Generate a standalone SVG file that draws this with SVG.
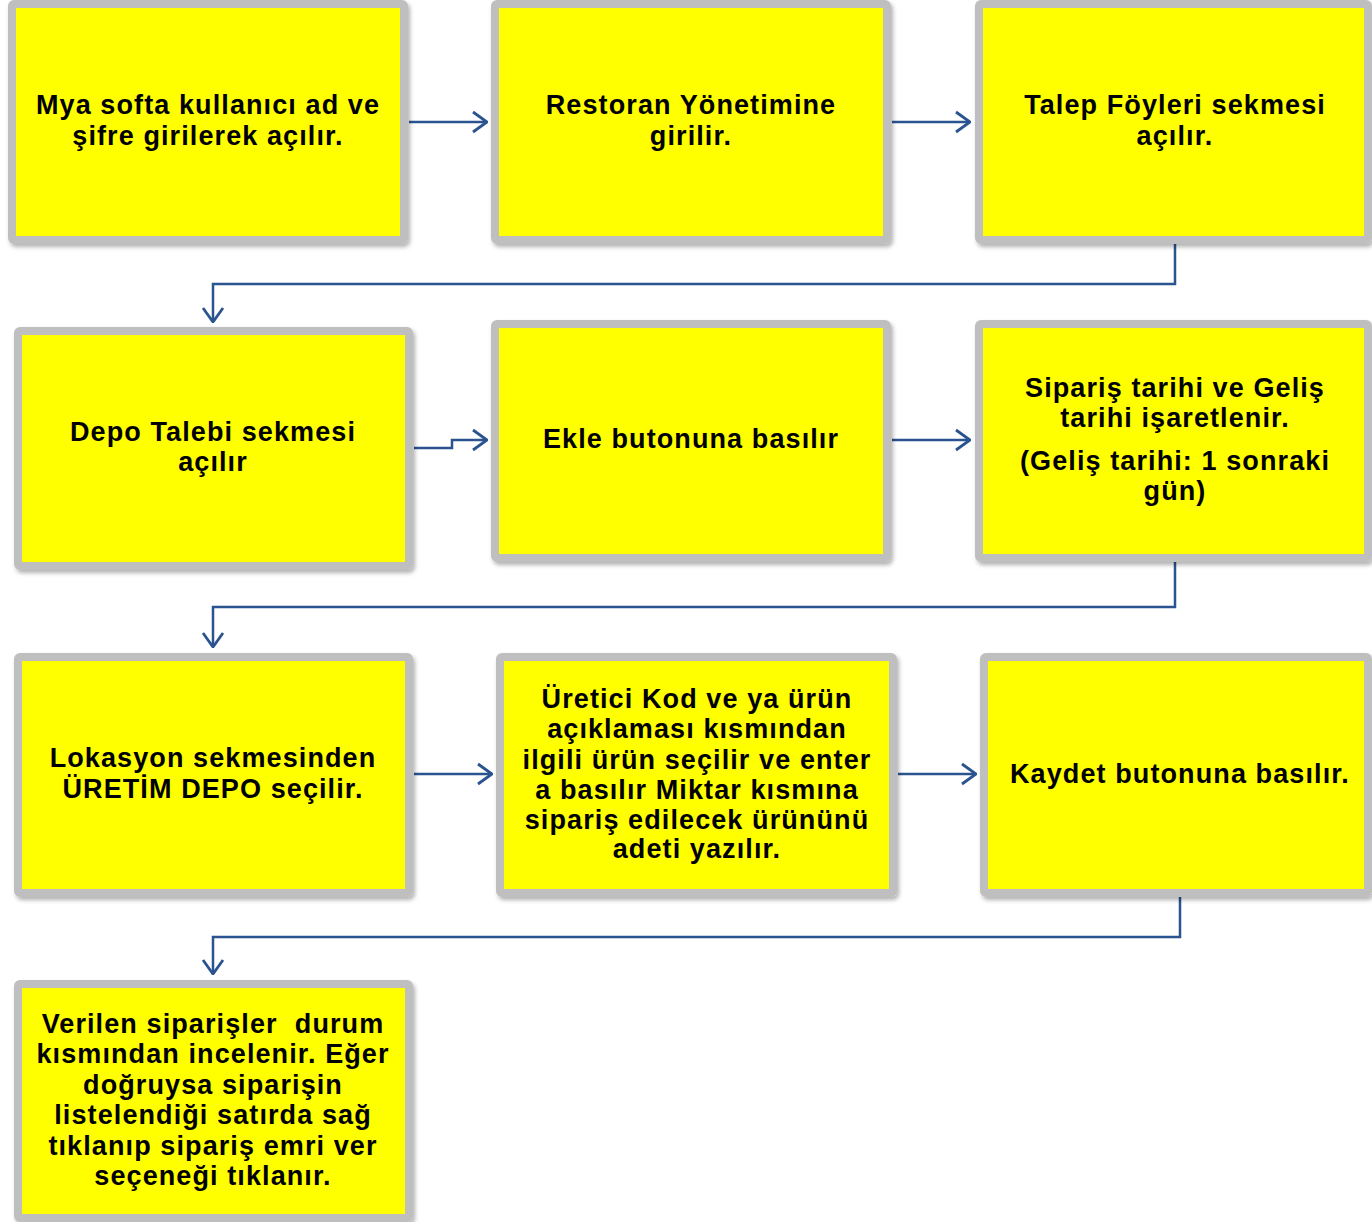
<svg xmlns="http://www.w3.org/2000/svg" width="1372" height="1222" viewBox="0 0 1372 1222">
<defs>
<style>
.box{fill:#FFFF00;stroke:#BFBFBF;stroke-width:8;filter:url(#sh)}
.t{font-family:"Liberation Sans",Arial,sans-serif;font-weight:bold;font-size:27px;fill:#000;text-anchor:middle;letter-spacing:1.1px;white-space:pre}
.c{fill:none;stroke:#2A5390;stroke-width:2.5;marker-end:url(#ah)}
</style>
<filter id="sh" x="-5%" y="-5%" width="115%" height="115%">
<feDropShadow dx="2" dy="3" stdDeviation="2" flood-color="#000" flood-opacity="0.3"/>
</filter>
<marker id="ah" markerUnits="userSpaceOnUse" viewBox="0 0 16 24" markerWidth="16" markerHeight="24" refX="15" refY="12" orient="auto">
<path d="M1,2 L15,12 L1,22" fill="none" stroke="#2A5390" stroke-width="2.8"/>
</marker>
</defs>
<rect width="1372" height="1222" fill="#FFFFFF"/>
<g id="connectors">
<path class="c" d="M409,122 H487"/>
<path class="c" d="M892,122 H970"/>
<path class="c" d="M1175,244 V284 H213 V322"/>
<path class="c" d="M414,448 H452 V440 H487"/>
<path class="c" d="M892,440 H970"/>
<path class="c" d="M1175,562 V607 H213 V647"/>
<path class="c" d="M414,774 H492"/>
<path class="c" d="M898,774 H976"/>
<path class="c" d="M1180,897 V937 H213 V974"/>
</g>
<g id="n1"><rect class="box" x="12" y="4" width="392" height="236" rx="2"/>
<text class="t"><tspan x="208" y="114">Mya softa kullanıcı ad ve</tspan><tspan x="208" y="145">şifre girilerek açılır.</tspan></text></g>
<g id="n2"><rect class="box" x="495" y="4" width="392" height="236" rx="2"/>
<text class="t"><tspan x="691" y="114">Restoran Yönetimine</tspan><tspan x="691" y="145">girilir.</tspan></text></g>
<g id="n3"><rect class="box" x="979" y="4" width="389" height="236" rx="2"/>
<text class="t"><tspan x="1175" y="114">Talep Föyleri sekmesi</tspan><tspan x="1175" y="145">açılır.</tspan></text></g>
<g id="n4"><rect class="box" x="18" y="331" width="391" height="235" rx="2"/>
<text class="t"><tspan x="213" y="441">Depo Talebi sekmesi</tspan><tspan x="213" y="471">açılır</tspan></text></g>
<g id="n5"><rect class="box" x="495" y="324" width="392" height="234" rx="2"/>
<text class="t"><tspan x="691" y="448">Ekle butonuna basılır</tspan></text></g>
<g id="n6"><rect class="box" x="979" y="324" width="389" height="234" rx="2"/>
<text class="t"><tspan x="1175" y="397">Sipariş tarihi ve Geliş</tspan><tspan x="1175" y="427">tarihi işaretlenir.</tspan><tspan x="1175" y="470">(Geliş tarihi: 1 sonraki</tspan><tspan x="1175" y="500">gün)</tspan></text></g>
<g id="n7"><rect class="box" x="18" y="657" width="391" height="236" rx="2"/>
<text class="t"><tspan x="213" y="767">Lokasyon sekmesinden</tspan><tspan x="213" y="798">ÜRETİM DEPO seçilir.</tspan></text></g>
<g id="n8"><rect class="box" x="500" y="657" width="393" height="236" rx="2"/>
<text class="t"><tspan x="697" y="708">Üretici Kod ve ya ürün</tspan><tspan x="697" y="738">açıklaması kısmından</tspan><tspan x="697" y="769">ilgili ürün seçilir ve enter</tspan><tspan x="697" y="799">a basılır Miktar kısmına</tspan><tspan x="697" y="829">sipariş edilecek ürününü</tspan><tspan x="697" y="858">adeti yazılır.</tspan></text></g>
<g id="n9"><rect class="box" x="984" y="657" width="384" height="236" rx="2"/>
<text class="t"><tspan x="1180" y="783">Kaydet butonuna basılır.</tspan></text></g>
<g id="n10"><rect class="box" x="18" y="984" width="391" height="234" rx="2"/>
<text class="t"><tspan x="213" y="1033">Verilen siparişler  durum</tspan><tspan x="213" y="1063">kısmından incelenir. Eğer</tspan><tspan x="213" y="1094">doğruysa siparişin</tspan><tspan x="213" y="1124">listelendiği satırda sağ</tspan><tspan x="213" y="1155">tıklanıp sipariş emri ver</tspan><tspan x="213" y="1185">seçeneği tıklanır.</tspan></text></g>
</svg>
